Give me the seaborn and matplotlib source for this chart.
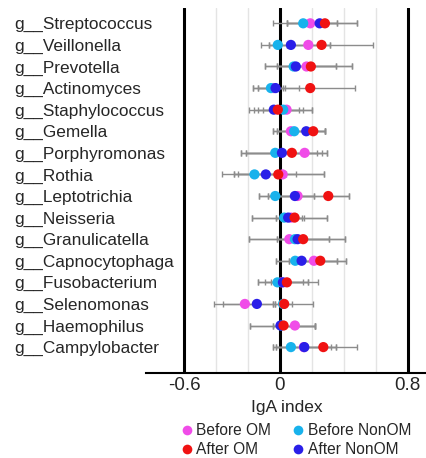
import numpy as np
import pandas as pd
import matplotlib.pyplot as plt
import seaborn as sns

# =====================================
# Data
# =====================================

genera = [
    "g__Streptococcus", "g__Veillonella", "g__Prevotella", "g__Actinomyces",
    "g__Staphylococcus", "g__Gemella", "g__Porphyromonas", "g__Rothia",
    "g__Leptotrichia", "g__Neisseria", "g__Granulicatella", "g__Capnocytophaga",
    "g__Fusobacterium", "g__Selenomonas", "g__Haemophilus", "g__Campylobacter",
]

# mean IgA index per genus
before_om = [0.19, 0.178, 0.167, -0.04, 0.042, 0.069, 0.155, 0.017,
             0.111, 0.07, 0.059, 0.213, 0.01, -0.219, 0.094, 0.15]
before_nonom = [0.146, -0.013, 0.086, -0.056, 0.021, 0.09, -0.029, -0.159,
                -0.029, 0.027, 0.094, 0.096, -0.015, 0.02, 0.01, 0.069]
after_om = [0.282, 0.261, 0.194, 0.19, -0.013, 0.209, 0.075, -0.01,
            0.303, 0.092, 0.146, 0.253, 0.044, 0.027, 0.023, 0.272]
after_nonom = [0.249, 0.069, 0.10, -0.027, -0.038, 0.165, 0.013, -0.088,
               0.094, 0.052, 0.111, 0.136, 0.019, -0.144, 0.004, 0.153]

# lower / upper interval bounds
before_om_lo = [0.044, 0.042, -0.015, -0.167, -0.104, -0.046, -0.245, -0.261,
                -0.077, -0.176, -0.192, -0.027, -0.092, -0.412, -0.186, -0.025]
before_om_hi = [0.36, 0.316, 0.453, 0.121, 0.2, 0.282, 0.293, 0.278,
                0.43, 0.295, 0.309, 0.416, 0.173, -0.031, 0.219, 0.351]
before_nonom_lo = [-0.04, -0.119, -0.092, -0.167, -0.134, -0.021, -0.245, -0.364,
                   -0.13, -0.176, -0.019, -0.027, -0.14, -0.046, -0.042, -0.046]
before_nonom_hi = [0.36, 0.042, 0.351, 0.033, 0.2, 0.282, 0.23, 0.038,
                   0.215, 0.136, 0.309, 0.357, 0.142, 0.073, 0.219, 0.32]
after_om_lo = [0.044, -0.067, -0.092, -0.134, -0.161, -0.046, -0.213, -0.29,
               -0.13, -0.025, -0.192, 0.059, -0.14, -0.031, -0.042, -0.046]
after_om_hi = [0.48, 0.581, 0.453, 0.472, 0.146, 0.282, 0.293, 0.278,
               0.43, 0.295, 0.405, 0.416, 0.236, 0.205, 0.219, 0.483]
after_nonom_lo = [0.044, -0.067, -0.015, -0.134, -0.196, -0.021, -0.213, -0.29,
                  -0.077, -0.025, -0.019, 0.059, -0.056, -0.359, -0.186, -0.025]
after_nonom_hi = [0.48, 0.316, 0.351, 0.017, 0.121, 0.282, 0.263, 0.104,
                  0.215, 0.152, 0.405, 0.357, 0.173, -0.046, 0.219, 0.351]

groups = ["Before OM", "Before NonOM", "After NonOM", "After OM"]  # draw order
legend_order = ["Before OM", "After OM", "Before NonOM", "After NonOM"]
palette = {
    "Before OM": "#f04ce8",
    "Before NonOM": "#18b2ec",
    "After OM": "#f01212",
    "After NonOM": "#2a1fe8",
}

series = {
    "Before OM": (before_om, before_om_lo, before_om_hi),
    "Before NonOM": (before_nonom, before_nonom_lo, before_nonom_hi),
    "After NonOM": (after_nonom, after_nonom_lo, after_nonom_hi),
    "After OM": (after_om, after_om_lo, after_om_hi),
}

rows = []
for g in groups:
    vals, lo, hi = series[g]
    for i, name in enumerate(genera):
        rows.append({"genus": name, "pos": i, "group": g,
                     "iga": vals[i], "lo": lo[i], "hi": hi[i]})
df = pd.DataFrame(rows)

# =====================================
# Plot
# =====================================

sns.set_style("white")
plt.rcParams["font.family"] = ["Liberation Sans", "DejaVu Sans"]

fig = plt.figure(figsize=(4.27, 4.58), dpi=100)
ax = fig.add_axes([146 / 427, 1 - 373 / 458, 1 - 146 / 427, 365 / 458])

# reference lines
for x in [-0.4, -0.2, 0.2, 0.4, 0.6]:
    ax.axvline(x, color="#e4e4e4", lw=1, zorder=0)
for x in [-0.6, 0, 0.8]:
    ax.axvline(x, color="black", lw=2.2, zorder=1)

# error bars
for g in groups:
    d = df[df["group"] == g]
    ax.errorbar(d["iga"], d["pos"],
                xerr=[d["iga"] - d["lo"], d["hi"] - d["iga"]],
                fmt="none", ecolor="#8c8c8c", elinewidth=1,
                capsize=2.2, capthick=1, zorder=2)

sns.scatterplot(data=df, x="iga", y="pos", hue="group", hue_order=legend_order,
                palette=palette, s=54, linewidth=0, ax=ax, zorder=3)

ax.set_xlim(-0.838, 0.921)
ax.set_ylim(16.2, -0.71)
ax.set_xticks([-0.6, 0, 0.8])
ax.set_xticklabels(["-0.6", "0", "0.8"], fontsize=13.5)
ax.set_yticks(range(len(genera)))
ax.set_yticklabels(genera, fontsize=12.4)
for lab in ax.get_yticklabels():
    lab.set_ha("left")
ax.tick_params(axis="y", length=0, pad=95)
ax.tick_params(axis="x", length=0, pad=3)
ax.set_xlabel("IgA index", fontsize=12.5, labelpad=4)
ax.set_ylabel("")

for s in ["left", "top", "right"]:
    ax.spines[s].set_visible(False)
ax.spines["bottom"].set_color("black")
ax.spines["bottom"].set_linewidth(1.5)

sns.move_legend(ax, "upper left", bbox_to_anchor=(0.394, 0.107),
                bbox_transform=fig.transFigure, ncol=2, frameon=False,
                title=None, fontsize=11.2, handlelength=0.6, handletextpad=0.3,
                columnspacing=1.45, labelspacing=0.28, markerscale=0.95)

plt.savefig("out.png", dpi=100)
